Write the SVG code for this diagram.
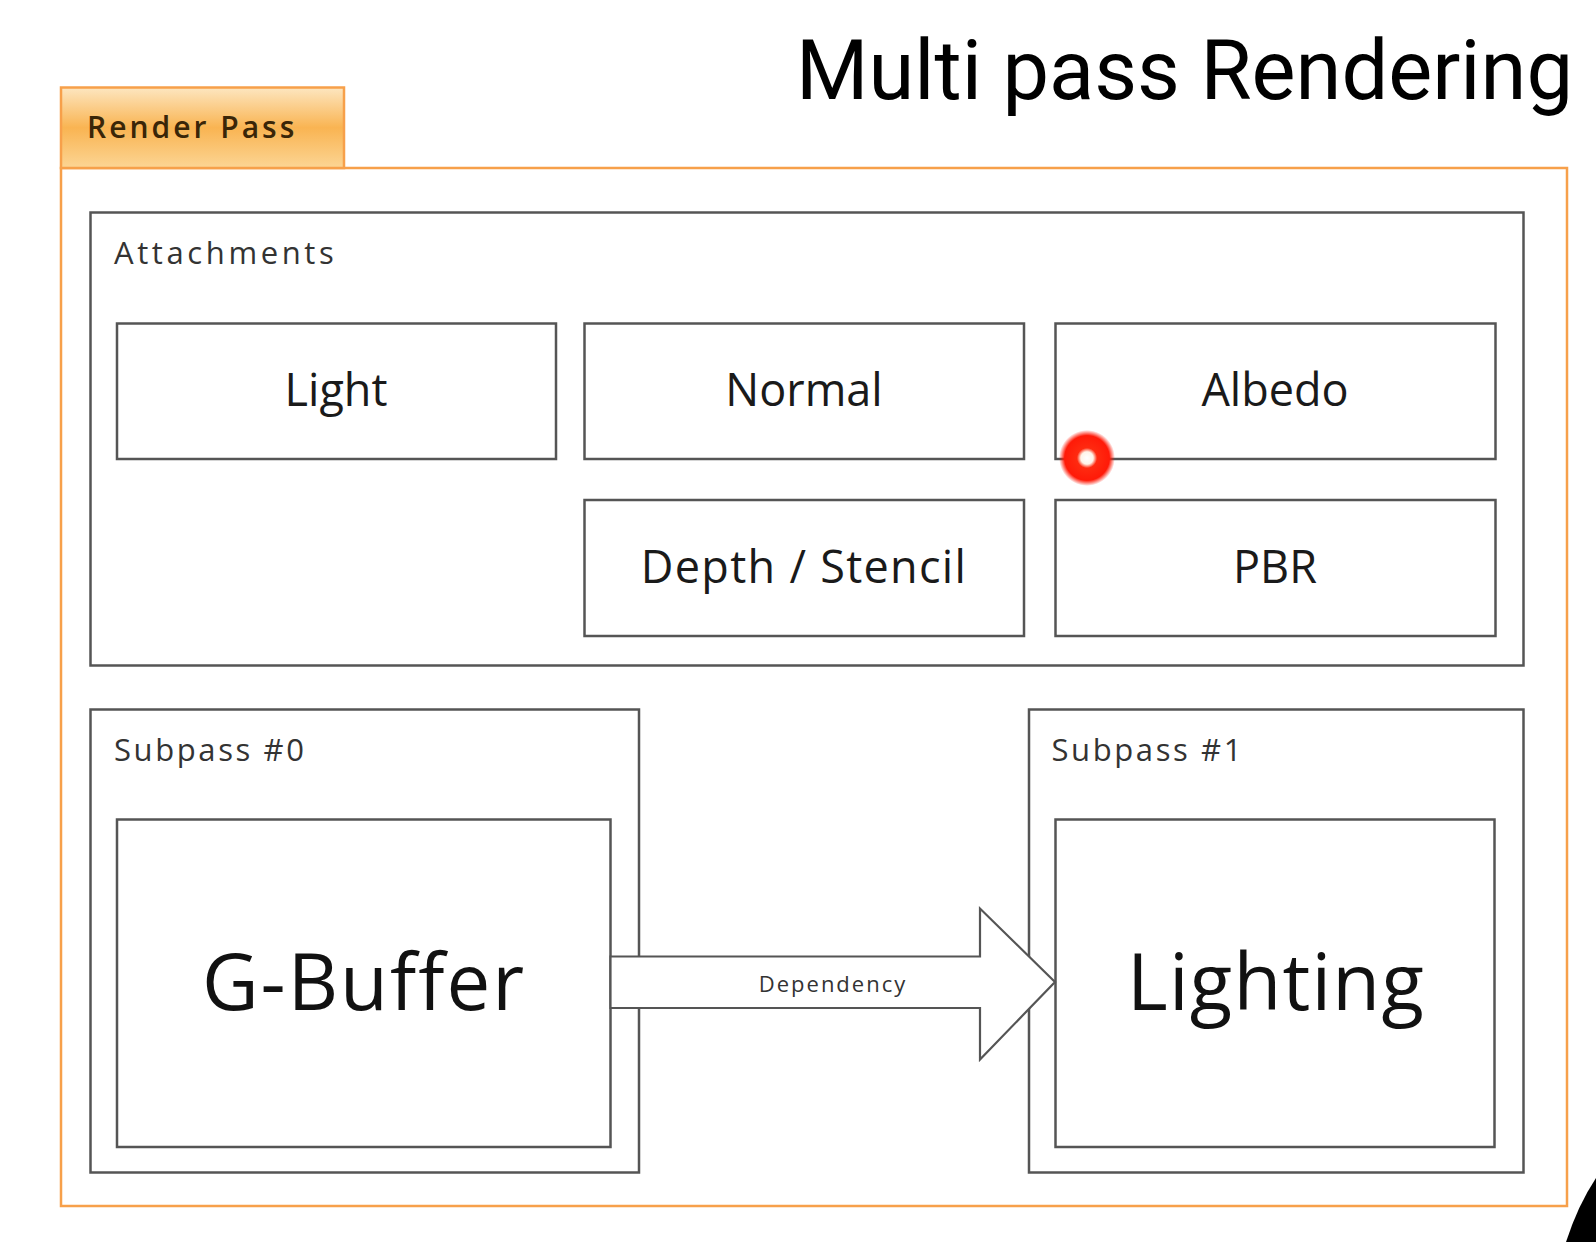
<svg xmlns="http://www.w3.org/2000/svg" width="1596" height="1242" viewBox="0 0 1596 1242">
<defs>
<linearGradient id="tabg" x1="0" y1="0" x2="0" y2="1">
<stop offset="0" stop-color="#fde6c0"/>
<stop offset="0.5" stop-color="#f9b452"/>
<stop offset="1" stop-color="#fcd594"/>
</linearGradient>
<radialGradient id="dot" cx="0.5" cy="0.5" r="0.5">
<stop offset="0" stop-color="#ffffff"/>
<stop offset="0.22" stop-color="#fff4e8"/>
<stop offset="0.36" stop-color="#ff2a10"/>
<stop offset="0.8" stop-color="#ff1a08"/>
<stop offset="1" stop-color="#ff1a08" stop-opacity="0"/>
</radialGradient>
</defs>
<style>
.box{fill:#ffffff;stroke:#555555;stroke-width:2.5}
.lbl{font-family:"Open Sans","Liberation Sans",sans-serif;font-size:45px;fill:#1a1a1a;text-anchor:middle}
.big{font-family:"Open Sans","Liberation Sans",sans-serif;font-size:78px;fill:#111111;text-anchor:middle}
.small{font-family:"Open Sans","Liberation Sans",sans-serif;font-size:31px;fill:#333333}
.orange{fill:#ffffff;stroke:#f7a04a;stroke-width:2.5}
</style>
<rect width="1596" height="1242" fill="#ffffff"/>
<text x="1573" y="99" font-family="Roboto,'Liberation Sans',sans-serif" font-size="83" fill="#000000" text-anchor="end">Multi pass Rendering</text>

<g id="renderpass">
<rect class="orange" x="61" y="168" width="1506" height="1038"/>
<rect x="61" y="87.5" width="283" height="80.5" fill="url(#tabg)" stroke="#f7a04a" stroke-width="2.5"/>
<text x="87" y="138" font-family="'Open Sans','Liberation Sans',sans-serif" font-size="30" font-weight="600" fill="#3a2608" letter-spacing="3">Render Pass</text>
</g>

<g id="attachments">
<rect class="box" x="90.5" y="212.5" width="1433" height="453"/>
<text class="small" x="114" y="264" letter-spacing="3.6">Attachments</text>
</g>
<g id="light"><rect class="box" x="117" y="323.5" width="439" height="135.5"/><text class="lbl" x="336" y="406">Light</text></g>
<g id="normal"><rect class="box" x="584.5" y="323.5" width="439.5" height="135.5"/><text class="lbl" x="804" y="406">Normal</text></g>
<g id="albedo"><rect class="box" x="1055.5" y="323.5" width="440" height="135.5"/><text class="lbl" x="1275" y="406">Albedo</text></g>
<g id="depth"><rect class="box" x="584.5" y="500" width="439.5" height="136"/><text class="lbl" x="804" y="583" letter-spacing="1.3">Depth / Stencil</text></g>
<g id="pbr"><rect class="box" x="1055.5" y="500" width="440" height="136"/><text class="lbl" x="1275" y="583">PBR</text></g>

<g id="subpass0">
<rect class="box" x="90.5" y="709.5" width="548.5" height="463"/>
<text class="small" x="114" y="761" letter-spacing="2.6">Subpass #0</text>
</g>
<g id="gbuffer"><rect class="box" x="117" y="819.5" width="493.5" height="327.5"/><text class="big" x="364" y="1010" letter-spacing="2">G-Buffer</text></g>

<g id="subpass1">
<rect class="box" x="1029" y="709.5" width="494.5" height="463"/>
<text class="small" x="1051.5" y="761" letter-spacing="2.6">Subpass #1</text>
</g>
<g id="lighting"><rect class="box" x="1055.5" y="819.5" width="439" height="327.5"/><text class="big" x="1276" y="1010" letter-spacing="1.2">Lighting</text></g>

<g id="connectors">
<path d="M610.5,956.5 L980,956.5 L980,908.5 L1055,982 L980,1059.5 L980,1008 L610.5,1008 Z" fill="#ffffff" stroke="#555555" stroke-width="2.2"/>
<text x="833" y="992" font-family="'Open Sans','Liberation Sans',sans-serif" font-size="22" fill="#333333" text-anchor="middle" letter-spacing="2">Dependency</text>
</g>

<circle cx="1087" cy="458" r="28" fill="url(#dot)"/>
<path d="M1566,1242 Q1578,1205 1596,1178 L1596,1242 Z" fill="#000000"/>
</svg>
